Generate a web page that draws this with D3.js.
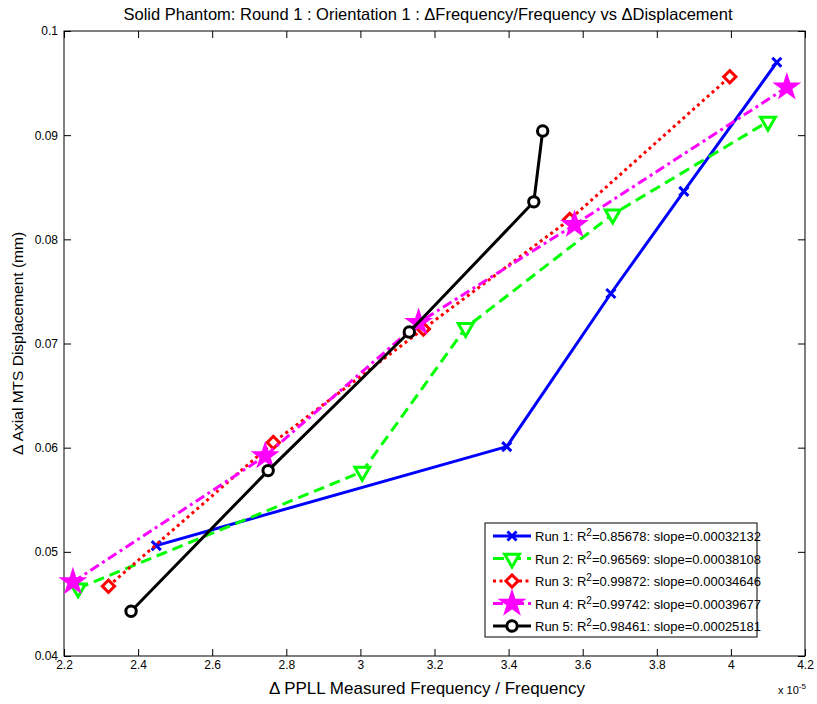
<!DOCTYPE html>
<html>
<head>
<meta charset="utf-8">
<script src="https://cdn.jsdelivr.net/npm/d3@7"></script>
<style>
  body { margin: 0; background: #fff; }
  svg { font-family: "Liberation Sans", Arial, sans-serif; }
</style>
</head>
<body>
<svg id="chart" width="817" height="704"></svg>
<script>
// x values are in units of 1e-5 (as the axis shows)
const runNames = ["Run 1", "Run 2", "Run 3", "Run 4", "Run 5"];
const runR2 = ["0.85678", "0.96569", "0.99872", "0.99742", "0.98461"];
const runSlope = ["0.00032132", "0.00038108", "0.00034646", "0.00039677", "0.00025181"];

const xRun1 = [2.449, 3.395, 3.676, 3.873, 4.124];
const yRun1 = [0.0506, 0.0601, 0.0748, 0.0846, 0.0970];
const xRun2 = [2.238, 3.005, 3.284, 3.681, 4.100];
const yRun2 = [0.0465, 0.0577, 0.0715, 0.0824, 0.0913];
const xRun3 = [2.320, 2.765, 3.170, 3.565, 3.997];
const yRun3 = [0.0467, 0.0605, 0.0714, 0.0819, 0.0956];
const xRun4 = [2.224, 2.743, 3.157, 3.578, 4.151];
const yRun4 = [0.0471, 0.0592, 0.0720, 0.0814, 0.0946];
const xRun5 = [2.381, 2.751, 3.132, 3.468, 3.492];
const yRun5 = [0.0443, 0.0578, 0.0711, 0.0836, 0.0904];

const xTicks = [2.2, 2.4, 2.6, 2.8, 3, 3.2, 3.4, 3.6, 3.8, 4, 4.2];
const yTicks = [0.04, 0.05, 0.06, 0.07, 0.08, 0.09, 0.1];

const runs = [
  {x: xRun1, y: yRun1, color: "#0000ff", dash: null,        symbol: d3.symbolTimes,    size: 55,  rotate: 0,   fill: "none"},
  {x: xRun2, y: yRun2, color: "#00ff00", dash: "11,6",      symbol: d3.symbolTriangle, size: 95,  rotate: 180, fill: "#fff"},
  {x: xRun3, y: yRun3, color: "#ff0000", dash: "3,3.5",     symbol: d3.symbolSquare,   size: 75,  rotate: 45,  fill: "#fff"},
  {x: xRun4, y: yRun4, color: "#ff00ff", dash: "10,4,3,4",  symbol: d3.symbolStar,     size: 120, rotate: 0,   fill: "#ff00ff"},
  {x: xRun5, y: yRun5, color: "#000000", dash: null,        symbol: d3.symbolCircle,   size: 85,  rotate: 0,   fill: "#fff"},
];

const margin = {left: 64, right: 12, top: 31, bottom: 48};
const W = 817, H = 704;
const svg = d3.select("#chart");

const x = d3.scaleLinear().domain([2.2, 4.2]).range([margin.left, W - margin.right]);
const y = d3.scaleLinear().domain([0.04, 0.1]).range([H - margin.bottom, margin.top]);

// axes with inward ticks on all four sides
const tick = 7;
svg.append("g")
    .attr("transform", `translate(0,${y(0.04)})`)
    .call(d3.axisBottom(x).tickValues(xTicks).tickFormat(d => String(d)).tickSizeInner(-tick).tickSizeOuter(0).tickPadding(4));
svg.append("g")
    .attr("transform", `translate(0,${y(0.1)})`)
    .call(d3.axisTop(x).tickValues(xTicks).tickFormat("").tickSizeInner(-tick).tickSizeOuter(0));
svg.append("g")
    .attr("transform", `translate(${x(2.2)},0)`)
    .call(d3.axisLeft(y).tickValues(yTicks).tickFormat(d => String(d)).tickSizeInner(-tick).tickSizeOuter(0).tickPadding(6));
svg.append("g")
    .attr("transform", `translate(${x(4.2)},0)`)
    .call(d3.axisRight(y).tickValues(yTicks).tickFormat("").tickSizeInner(-tick).tickSizeOuter(0));

svg.selectAll(".domain").remove();
svg.selectAll(".tick line").attr("stroke", "#000");
svg.selectAll(".tick text").attr("font-size", 12).attr("fill", "#000")
    .attr("font-family", "'Liberation Sans', Arial, sans-serif");

svg.append("rect")
    .attr("x", x(2.2)).attr("y", y(0.1))
    .attr("width", x(4.2) - x(2.2)).attr("height", y(0.04) - y(0.1))
    .attr("fill", "none").attr("stroke", "#000").attr("stroke-width", 1);

// series
const line = d3.line().x(d => x(d[0])).y(d => y(d[1]));
runs.forEach(r => {
  const pts = r.x.map((v, i) => [v, r.y[i]]);
  svg.append("path")
      .attr("d", line(pts))
      .attr("fill", "none")
      .attr("stroke", r.color)
      .attr("stroke-width", 3)
      .attr("stroke-dasharray", r.dash)
      .attr("stroke-linejoin", "round");
  svg.append("g").selectAll("path")
      .data(pts)
      .join("path")
      .attr("d", d3.symbol(r.symbol, r.size))
      .attr("transform", d => `translate(${x(d[0])},${y(d[1])}) rotate(${r.rotate})`)
      .attr("fill", r.fill)
      .attr("stroke", r.color)
      .attr("stroke-width", 3);
});

// legend
const leg = svg.append("g").attr("transform", "translate(485,523)");
leg.append("rect").attr("width", 272).attr("height", 114)
    .attr("fill", "#fff").attr("stroke", "#000").attr("stroke-width", 1);
runs.forEach((r, i) => {
  const ly = 13 + i * 22.5;
  const row = leg.append("g").attr("transform", `translate(0,${ly})`);
  row.append("line").attr("x1", 8).attr("x2", 46)
      .attr("stroke", r.color).attr("stroke-width", 3)
      .attr("stroke-dasharray", r.dash);
  row.append("path")
      .attr("d", d3.symbol(r.symbol, r.size))
      .attr("transform", `translate(27,0) rotate(${r.rotate})`)
      .attr("fill", r.fill).attr("stroke", r.color).attr("stroke-width", 3);
  const t = row.append("text").attr("x", 50).attr("y", 5)
      .attr("font-size", 13).attr("fill", "#000");
  t.append("tspan").text(`${runNames[i]}: R`);
  t.append("tspan").attr("dy", -5).attr("font-size", 10).text("2");
  t.append("tspan").attr("dy", 5).text(`=${runR2[i]}: slope=${runSlope[i]}`);
});

// labels
svg.append("text")
    .attr("x", 428).attr("y", 20)
    .attr("text-anchor", "middle").attr("font-size", 16.5)
    .text("Solid Phantom: Round 1 : Orientation 1 : \u0394Frequency/Frequency vs \u0394Displacement");

svg.append("text")
    .attr("x", 427).attr("y", 694)
    .attr("text-anchor", "middle").attr("font-size", 17)
    .text("\u0394 PPLL Measured Frequency / Frequency");

svg.append("text")
    .attr("transform", `translate(23,${(y(0.04) + y(0.1)) / 2}) rotate(-90)`)
    .attr("text-anchor", "middle").attr("font-size", 15.5)
    .text("\u0394 Axial MTS Displacement (mm)");

const ex = svg.append("text").attr("x", 778).attr("y", 694).attr("font-size", 11);
ex.append("tspan").text("x 10");
ex.append("tspan").attr("dy", -5).attr("font-size", 8).text("-5");
</script>
</body>
</html>
